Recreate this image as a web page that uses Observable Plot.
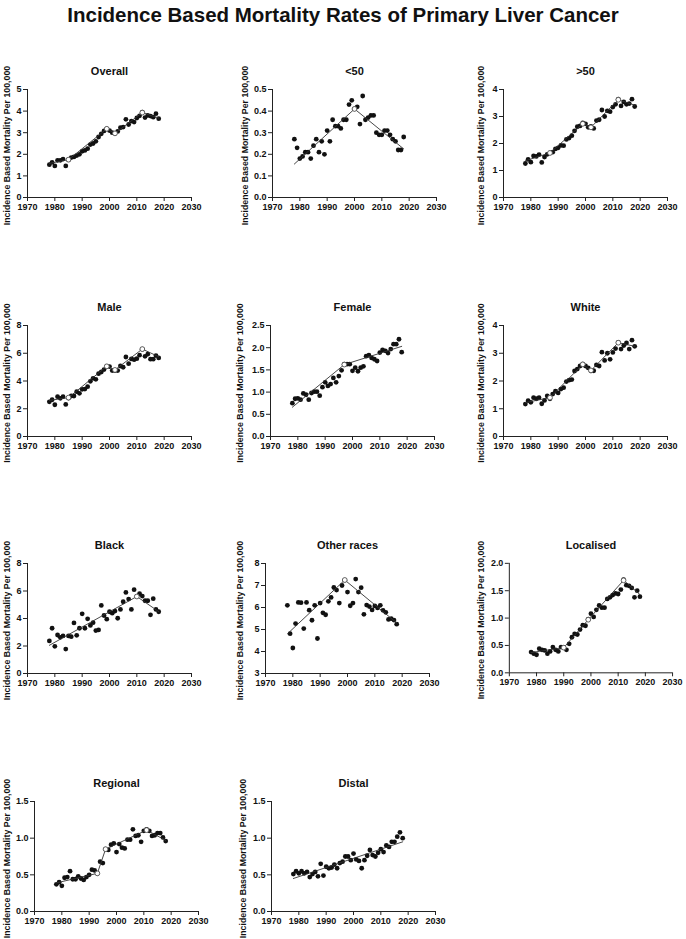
<!DOCTYPE html>
<html>
<head>
<meta charset="utf-8">
<script src="https://cdn.jsdelivr.net/npm/d3@7"></script>
<script src="https://cdn.jsdelivr.net/npm/@observablehq/plot@0.6"></script>
<style>
  html, body { margin: 0; padding: 0; background: #fff; }
  #page { position: relative; width: 686px; height: 939px; overflow: hidden; font-family: "Liberation Sans", Arial, sans-serif; }
  #title { position: absolute; left: 0; top: 3px; width: 686px; text-align: center; font-size: 20.5px; font-weight: bold; line-height: 24px; color: #111; }
  .panel { position: absolute; }
  .panel svg { overflow: visible; }
</style>
</head>
<body>
<div id="page">
  <div id="title">Incidence Based Mortality Rates of Primary Liver Cancer</div>
</div>
<script>
// ---------------- DATA ----------------
const mainTitle = "Incidence Based Mortality Rates of Primary Liver Cancer";
const yLabel = "Incidence Based Mortality Per 100,000";
const years = d3.range(1978, 2019);
const xTicks = [1970, 1980, 1990, 2000, 2010, 2020, 2030];

const panelNames = ["Overall", "<50", ">50", "Male", "Female", "White", "Black", "Other races", "Localised", "Regional", "Distal"];

const overall = [1.52,1.63,1.46,1.72,1.72,1.78,1.46,1.75,1.85,1.88, 1.94,2.00,2.14,2.18,2.26,2.45,2.50,2.60,2.80,2.95, 3.08,3.18,3.10,3.00,2.97,3.06,3.23,3.26,3.62,3.38, 3.54,3.49,3.68,3.78,3.95,3.70,3.80,3.77,3.72,3.88, 3.65];
const under50 = [0.27,0.23,0.18,0.19,0.21,0.21,0.18,0.24,0.27,0.21, 0.26,0.20,0.31,0.26,0.36,0.33,0.33,0.32,0.36,0.36, 0.43,0.45,0.41,0.42,0.34,0.47,0.36,0.37,0.38,0.38, 0.30,0.29,0.29,0.31,0.31,0.29,0.27,0.26,0.22,0.22, 0.28];
const over50 = [1.26,1.41,1.31,1.54,1.52,1.59,1.30,1.50,1.60,1.65, 1.68,1.80,1.84,1.93,1.92,2.15,2.20,2.29,2.47,2.62, 2.65,2.76,2.73,2.60,2.63,2.56,2.85,2.88,3.24,3.00, 3.21,3.18,3.35,3.45,3.64,3.39,3.54,3.45,3.48,3.64, 3.37];
const male = [2.50,2.65,2.29,2.87,2.75,2.87,2.31,2.77,2.92,2.92, 3.23,3.11,3.40,3.42,3.59,3.98,4.19,4.12,4.53,4.65, 4.82,5.06,5.04,4.75,4.75,4.75,5.08,4.99,5.73,5.25, 5.59,5.54,5.61,5.86,6.29,5.78,5.93,5.57,5.57,5.83, 5.66];
const female = [0.75,0.85,0.86,0.83,0.97,0.94,0.83,0.98,1.01,1.01, 0.92,1.11,1.22,1.14,1.18,1.32,1.22,1.36,1.49,1.63, 1.63,1.63,1.48,1.55,1.47,1.55,1.58,1.81,1.83,1.77, 1.74,1.70,1.89,1.95,1.93,1.88,1.97,2.08,2.08,2.19, 1.90];
const white = [1.17,1.29,1.23,1.40,1.36,1.40,1.18,1.30,1.46,1.36, 1.53,1.63,1.57,1.71,1.76,1.98,2.03,2.05,2.36,2.43, 2.54,2.61,2.54,2.47,2.37,2.37,2.58,2.54,3.04,2.74, 3.00,2.78,3.03,3.17,3.39,3.15,3.28,3.37,3.15,3.47, 3.25];
const black = [2.37,3.29,1.98,2.80,2.63,2.73,1.78,2.73,2.68,3.68, 2.78,3.29,4.34,3.29,3.98,3.50,3.70,3.12,3.17,4.95, 4.22,3.95,4.49,4.39,4.54,4.02,4.66,5.22,5.90,5.41, 4.66,6.10,5.61,5.80,5.63,5.29,5.29,4.27,5.44,4.66, 4.49];
const otherRaces = [6.10,4.81,4.16,5.27,6.23,6.22,5.04,6.23,5.88,5.42, 6.10,4.59,6.20,5.76,5.67,6.28,6.46,6.91,6.79,6.20, 7.00,7.24,6.70,6.08,6.20,7.29,6.70,6.90,5.69,6.11, 6.04,5.89,6.07,5.98,6.10,5.87,5.78,5.46,5.49,5.43, 5.24];
const localised = [0.38,0.35,0.33,0.44,0.42,0.41,0.35,0.39,0.47,0.42, 0.39,0.47,0.46,0.42,0.53,0.65,0.71,0.70,0.79,0.87, 0.86,0.98,1.08,1.02,1.15,1.23,1.19,1.19,1.35,1.38, 1.42,1.45,1.44,1.52,1.70,1.60,1.59,1.55,1.38,1.50, 1.39];
const regional = [0.37,0.40,0.35,0.46,0.47,0.55,0.44,0.44,0.48,0.45, 0.43,0.47,0.50,0.57,0.56,0.52,0.68,0.66,0.85,0.84, 0.91,0.93,0.81,0.92,0.87,0.86,0.98,0.98,1.12,1.03, 1.04,0.95,1.10,1.12,1.10,1.03,1.04,1.07,1.07,1.01, 0.96];
const distal = [0.51,0.55,0.52,0.55,0.52,0.54,0.47,0.51,0.54,0.48, 0.65,0.49,0.61,0.59,0.60,0.64,0.59,0.66,0.68,0.75, 0.75,0.70,0.79,0.71,0.69,0.59,0.70,0.76,0.84,0.77, 0.75,0.80,0.85,0.81,0.90,0.88,0.95,0.95,1.02,1.08, 1.00];

// joinpoint fitted trends: years and values
const fitYears = [
  [1978,1985,1999,2002,2012,2018],
  [1978,2000,2018],
  [1978,1987,1999,2002,2012,2018],
  [1978,1985,1999,2002,2012,2018],
  [1978,1997,2018],
  [1978,1987,1999,2002,2012,2018],
  [1978,2010,2018],
  [1978,1999,2018],
  [1978,1990,1999,2012,2018],
  [1978,1993,1996,2011,2018],
  [1978,2018]
];
const fitValues = [
  [1.58,1.75,3.18,2.97,3.93,3.68],
  [0.155,0.41,0.225],
  [1.36,1.65,2.73,2.60,3.62,3.42],
  [2.60,2.80,5.06,4.80,6.30,5.75],
  [0.66,1.62,2.03],
  [1.22,1.40,2.60,2.38,3.38,3.25],
  [2.05,5.60,4.50],
  [4.80,7.25,5.30],
  [0.37,0.46,0.97,1.69,1.43],
  [0.39,0.52,0.85,1.11,0.97],
  [0.45,0.95]
];

const seriesValues = [overall, under50, over50, male, female, white, black, otherRaces, localised, regional, distal];

const yTicks = [
  [0,1,2,3,4,5],
  [0,0.1,0.2,0.3,0.4,0.5],
  [0,1,2,3,4],
  [0,2,4,6,8],
  [0,0.5,1,1.5,2,2.5],
  [0,1,2,3,4],
  [0,2,4,6,8],
  [3,4,5,6,7,8],
  [0,0.5,1,1.5,2],
  [0,0.5,1,1.5],
  [0,0.5,1,1.5]
];
const yDecimals = [0,1,0,0,1,0,0,0,1,1,1];

// ---------------- LAYOUT (pixels) ----------------
const axisLeft = [27,272,503, 27,270,503, 27,265,509, 34,271];
const labelLeft = [7,245,481, 7,240,481, 7,240,481, 7,243];
const rowTop = [89,325,563,801];
const rowBottom = [197,436,673,911];
const frameW = 164;

const page = document.getElementById("page");
const font = "'Liberation Sans', Arial, Helvetica, sans-serif";

panelNames.forEach((name, i) => {
  const row = Math.floor(i / 3);
  const data = years.map((yr, k) => ({year: yr, v: seriesValues[i][k]}));
  const fit = fitYears[i].map((yr, k) => ({year: yr, v: fitValues[i][k]}));
  const joints = fit.slice(1, -1);
  const ticks = yTicks[i];
  const ymin = ticks[0], ymax = ticks[ticks.length - 1];
  const svgLeft = labelLeft[i] - 8;
  const mL = axisLeft[i] - svgLeft;
  const mT = 34, mB = 36, mR = 14;
  const h = rowBottom[row] - rowTop[row];
  const fmt = yDecimals[i] ? d3.format(".1f") : d3.format("d");

  const chart = Plot.plot({
    width: mL + frameW + mR,
    height: mT + h + mB,
    marginLeft: mL, marginRight: mR, marginTop: mT, marginBottom: mB,
    style: {fontFamily: font, fontSize: "9px", fontWeight: "bold", color: "#111", background: "transparent", overflow: "visible"},
    x: {domain: [1970, 2030], label: null},
    y: {domain: [ymin, ymax], label: null},
    marks: [
      Plot.axisX({ticks: xTicks, tickFormat: d => String(d), tickSize: 4, tickPadding: 2, label: null, stroke: "#222", fill: "#111"}),
      Plot.axisY({ticks: ticks, tickFormat: fmt, tickSize: 4, tickPadding: 2, label: null, stroke: "#222", fill: "#111"}),
      Plot.ruleX([1970], {y1: ymin, y2: ymax, stroke: "#222", strokeWidth: 1}),
      Plot.ruleY([ymin], {x1: 1970, x2: 2030, stroke: "#222", strokeWidth: 1}),
      Plot.dot(data, {x: "year", y: "v", r: 2.4, fill: "#111", stroke: "none"}),
      Plot.line(fit, {x: "year", y: "v", stroke: "#333", strokeWidth: 0.9}),
      Plot.dot(joints, {x: "year", y: "v", r: 2.4, fill: "#fff", stroke: "#555", strokeWidth: 0.9}),
      Plot.text([name], {text: d => d, frameAnchor: "top", lineAnchor: "middle", dy: -18, fontSize: 11, fontWeight: "bold", fill: "#111"}),
      Plot.text([yLabel], {text: d => d, frameAnchor: "left", textAnchor: "middle", lineAnchor: "middle", rotate: -90, dx: 8 - mL, dy: 2, fontSize: 8.8, fontWeight: "bold", fill: "#111"})
    ]
  });
  const wrap = document.createElement("div");
  wrap.className = "panel";
  wrap.style.left = svgLeft + "px";
  wrap.style.top = (rowTop[row] - mT) + "px";
  wrap.appendChild(chart);
  page.appendChild(wrap);
});
</script>
</body>
</html>
